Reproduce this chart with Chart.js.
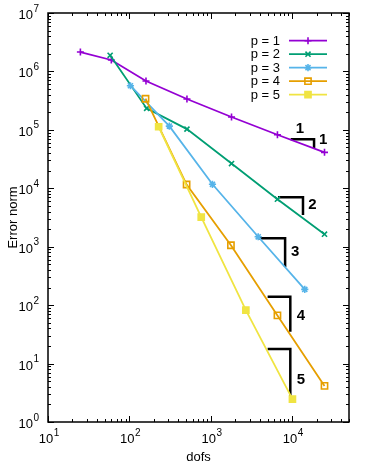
<!DOCTYPE html>
<html>
<head>
<meta charset="utf-8">
<script src="https://cdn.jsdelivr.net/npm/chart.js@4.4.1/dist/chart.umd.min.js"></script>
<style>
  html, body { margin: 0; padding: 0; background: #fff; }
  #wrap { width: 374px; height: 466px; position: relative; }
</style>
</head>
<body>
<div id="wrap"><canvas id="chart"></canvas></div>
<script>
// series
var seriesLabels = ["p = 1", "p = 2", "p = 3", "p = 4", "p = 5"];
var dofsP1 = [25, 60, 160, 510, 1800, 6600, 25000];
var errP1 = [2.15e6, 1.57e6, 6.85e5, 3.37e5, 1.66e5, 8.25e4, 4.12e4];
var dofsP2 = [58, 163, 510, 1800, 6600, 25000];
var errP2 = [1.89e6, 2.33e5, 1.03e5, 2.65e4, 6500, 1640];
var dofsP3 = [103, 310, 1050, 3830, 14300];
var errP3 = [5.69e5, 1.16e5, 1.17e4, 1480, 186];
var dofsP4 = [158, 505, 1770, 6600, 25000];
var errP4 = [3.41e5, 1.16e4, 1060, 66.7, 4.15];
var dofsP5 = [229, 764, 2700, 10090];
var errP5 = [1.13e5, 3210, 82, 2.46];

// slope triangles (horizontal leg then vertical leg)
var slopeTexts = ["1", "2", "3", "4", "5"];
var slopeX0 = [9600, 6700, 3800, 5000, 5000];
var slopeX1 = [18600, 13600, 8200, 9500, 9500];
var slopeYTop = [6.9e4, 7000, 1390, 139, 17.7];
var slopeYBot = [4.9e4, 3480, 450, 35, 2.8];
var slopeLabelX = [24000, 17700, 10900, 12800, 12800];
var slopeLabelY = [6.7e4, 5300, 818, 64.8, 5.35];
var runLabelX = 12500;
var runLabelY = 1.03e5;

// axes
var xMin = 10, xMax = 50000;
var yMin = 1, yMax = 1e7;
var xDecades = [1, 2, 3, 4];
var yDecades = [0, 1, 2, 3, 4, 5, 6, 7];

var seriesColors = ["#9400d3", "#009e73", "#56b4e9", "#e69f00", "#f0e442"];
var seriesMarkers = ["cross", "crossRot", "star", "rect", "rect"];
var seriesMarkerSize = [3.5, 3.6, 3.6, 4.4, 4.3];
var seriesFilled = [false, false, false, false, true];

var FONT = "'Liberation Sans', Arial, sans-serif";

function toPoints(xs, ys) {
  return xs.map(function (x, i) { return { x: x, y: ys[i] }; });
}

var seriesData = [
  toPoints(dofsP1, errP1),
  toPoints(dofsP2, errP2),
  toPoints(dofsP3, errP3),
  toPoints(dofsP4, errP4),
  toPoints(dofsP5, errP5)
];

var datasets = seriesData.map(function (pts, i) {
  return {
    label: seriesLabels[i],
    data: pts,
    showLine: true,
    borderColor: seriesColors[i],
    backgroundColor: seriesFilled[i] ? seriesColors[i] : "rgba(0,0,0,0)",
    borderWidth: 1.8,
    pointStyle: seriesMarkers[i],
    pointRadius: seriesMarkerSize[i],
    pointBorderWidth: 1.6,
    pointBorderColor: seriesColors[i],
    pointBackgroundColor: seriesFilled[i] ? seriesColors[i] : "rgba(0,0,0,0)",
    order: seriesLabels.length - i,
    isSeries: true
  };
});

slopeTexts.forEach(function (t, i) {
  datasets.push({
    label: "slope " + t,
    data: [
      { x: slopeX0[i], y: slopeYTop[i] },
      { x: slopeX1[i], y: slopeYTop[i] },
      { x: slopeX1[i], y: slopeYBot[i] }
    ],
    showLine: true,
    borderColor: "#000",
    borderWidth: 2.5,
    borderJoinStyle: "miter",
    pointRadius: 0,
    order: 10
  });
});

function drawPower(ctx, exp, x, y, align) {
  ctx.font = "13px " + FONT;
  var wBase = ctx.measureText("10").width;
  ctx.font = "10px " + FONT;
  var wExp = ctx.measureText(String(exp)).width;
  var total = wBase + wExp + 0.5;
  var start = align === "right" ? x - total : x - total / 2;
  ctx.textAlign = "left";
  ctx.textBaseline = "alphabetic";
  ctx.font = "13px " + FONT;
  ctx.fillText("10", start, y);
  ctx.font = "10px " + FONT;
  ctx.fillText(String(exp), start + wBase + 0.5, y - 7.5);
}

var framePlugin = {
  id: "frame",
  afterDraw: function (chart) {
    var ctx = chart.ctx;
    var a = chart.chartArea;
    var xs = chart.scales.x;
    var ys = chart.scales.y;
    ctx.save();
    ctx.strokeStyle = "#000";
    ctx.fillStyle = "#000";

    // tick marks on all four sides, pointing inward
    ctx.lineWidth = 1;
    ctx.beginPath();
    xDecades.forEach(function (d) {
      for (var m = 1; m <= 9; m++) {
        var v = m * Math.pow(10, d);
        if (v < xMin || v > xMax) continue;
        var px = Math.round(xs.getPixelForValue(v)) + 0.5;
        var len = m === 1 ? 6 : 3;
        ctx.moveTo(px, a.bottom); ctx.lineTo(px, a.bottom - len);
        ctx.moveTo(px, a.top); ctx.lineTo(px, a.top + len);
      }
    });
    yDecades.forEach(function (d) {
      for (var m = 1; m <= 9; m++) {
        var v = m * Math.pow(10, d);
        if (v < yMin || v > yMax) continue;
        var py = Math.round(ys.getPixelForValue(v)) + 0.5;
        var len = m === 1 ? 6 : 3;
        ctx.moveTo(a.left, py); ctx.lineTo(a.left + len, py);
        ctx.moveTo(a.right, py); ctx.lineTo(a.right - len, py);
      }
    });
    ctx.stroke();

    // frame
    ctx.lineWidth = 1.5;
    ctx.strokeRect(a.left, a.top, a.right - a.left, a.bottom - a.top);

    // tick labels
    yDecades.forEach(function (d) {
      var py = ys.getPixelForValue(Math.pow(10, d));
      drawPower(ctx, d, 39, py + 6, "right");
    });
    xDecades.forEach(function (d) {
      var px = xs.getPixelForValue(Math.pow(10, d));
      drawPower(ctx, d, px + 1, a.bottom + 21, "center");
    });

    // axis titles
    ctx.font = "13px " + FONT;
    ctx.textAlign = "center";
    ctx.textBaseline = "middle";
    ctx.fillText("dofs", (a.left + a.right) / 2, 457);
    ctx.save();
    ctx.translate(13, (a.top + a.bottom) / 2);
    ctx.rotate(-Math.PI / 2);
    ctx.fillText("Error norm", 0, 0);
    ctx.restore();

    // slope labels
    ctx.font = "bold 15px " + FONT;
    ctx.textAlign = "center";
    ctx.textBaseline = "middle";
    slopeTexts.forEach(function (t, i) {
      ctx.fillText(t, xs.getPixelForValue(slopeLabelX[i]), ys.getPixelForValue(slopeLabelY[i]));
    });
    ctx.fillText("1", xs.getPixelForValue(runLabelX), ys.getPixelForValue(runLabelY));

    // legend: text on the left, sample line with marker on the right
    var rowY = 40.7, rowH = 13.5;
    chart.data.datasets.forEach(function (ds, i) {
      if (!ds.isSeries) return;
      var y = rowY + i * rowH;
      ctx.fillStyle = "#000";
      ctx.font = "13px " + FONT;
      ctx.textAlign = "right";
      ctx.textBaseline = "middle";
      ctx.fillText(ds.label, 280, y + 0.5);
      ctx.strokeStyle = ds.borderColor;
      ctx.lineWidth = ds.borderWidth;
      ctx.beginPath();
      ctx.moveTo(289, y); ctx.lineTo(327, y);
      ctx.stroke();
      ctx.fillStyle = ds.pointBackgroundColor;
      ctx.lineWidth = ds.pointBorderWidth;
      Chart.helpers.drawPoint(ctx, {
        pointStyle: ds.pointStyle,
        radius: ds.pointRadius,
        rotation: 0,
        borderWidth: ds.pointBorderWidth
      }, 308, y);
    });
    ctx.restore();
  }
};

new Chart(document.getElementById("chart"), {
  type: "scatter",
  data: { datasets: datasets },
  options: {
    responsive: true,
    maintainAspectRatio: false,
    animation: false,
    events: [],
    layout: { padding: { left: 48, top: 13, right: 25, bottom: 44 } },
    plugins: {
      legend: { display: false },
      tooltip: { enabled: false }
    },
    scales: {
      x: { type: "logarithmic", min: xMin, max: xMax, display: false },
      y: { type: "logarithmic", min: yMin, max: yMax, display: false }
    }
  },
  plugins: [framePlugin]
});
</script>
</body>
</html>
